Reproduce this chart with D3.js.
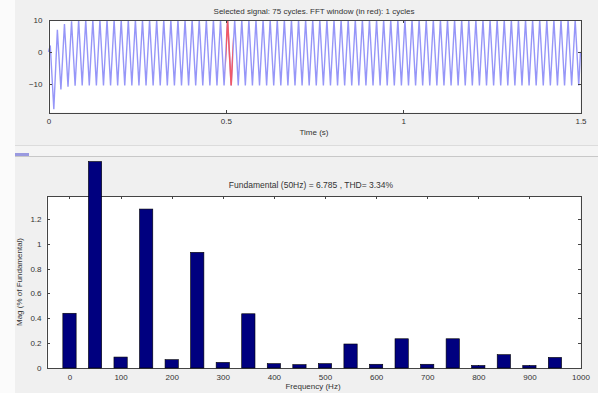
<!DOCTYPE html>
<html>
<head>
<meta charset="utf-8">
<script src="https://cdn.jsdelivr.net/npm/d3@7"></script>
<style>
  body { margin: 0; background: #f0f0f0; }
  svg { display: block; font-family: "Liberation Sans", Arial, sans-serif; }
  .axis text { font-size: 8px; fill: #333; }
  .axis path, .axis line { stroke: #444; shape-rendering: crispEdges; }
</style>
</head>
<body>
<div id="chart"></div>
<script>
// ---- data ----
// per-cycle max / min of the selected signal, 75 cycles of 50 Hz
const cyclePeaks = [
  2, 6.9, 8.7, 9.6, 10, 10, 10, 10, 10, 10, 10, 10, 10, 10, 10,
  10, 10, 10, 10, 10, 10, 10, 10, 10, 10, 10, 10, 10, 10, 10,
  10, 10, 10, 10, 10, 10, 10, 10, 10, 10, 10, 10, 10, 10, 10,
  10, 10, 10, 10, 10, 10, 10, 10, 10, 10, 10, 10, 10, 10, 10,
  10, 10, 10, 10, 10, 10, 10, 10, 10, 10, 10, 10, 10, 10, 10
];
const cycleTroughs = [
  -18, -11.8, -10.9, -10.6, -10.5, -10.5, -10.5, -10.5, -10.5, -10.5, -10.5, -10.5, -10.5, -10.5, -10.5,
  -10.5, -10.5, -10.5, -10.5, -10.5, -10.5, -10.5, -10.5, -10.5, -10.5, -10.5, -10.5, -10.5, -10.5, -10.5,
  -10.5, -10.5, -10.5, -10.5, -10.5, -10.5, -10.5, -10.5, -10.5, -10.5, -10.5, -10.5, -10.5, -10.5, -10.5,
  -10.5, -10.5, -10.5, -10.5, -10.5, -10.5, -10.5, -10.5, -10.5, -10.5, -10.5, -10.5, -10.5, -10.5, -10.5,
  -10.5, -10.5, -10.5, -10.5, -10.5, -10.5, -10.5, -10.5, -10.5, -10.5, -10.5, -10.5, -10.5, -10.5, -10.5
];
const fundamentalHz = 50;
const fftWindow = [0.5, 0.52];
const timeTicks = [0, 0.5, 1, 1.5];
const signalTicks = [-10, 0, 10];

const harmonicFreqs = [0, 50, 100, 150, 200, 250, 300, 350, 400, 450,
                       500, 550, 600, 650, 700, 750, 800, 850, 900, 950];
const harmonicMags = [0.44, 1.66, 0.088, 1.278, 0.067, 0.93, 0.045, 0.436, 0.035, 0.027,
                      0.035, 0.193, 0.03, 0.235, 0.03, 0.235, 0.02, 0.107, 0.02, 0.085];
const freqTicks = [0, 100, 200, 300, 400, 500, 600, 700, 800, 900, 1000];
const magTicks = [0, 0.2, 0.4, 0.6, 0.8, 1, 1.2];

const W = 598, H = 393;
const svg = d3.select("#chart").append("svg").attr("width", W).attr("height", H);

svg.append("rect").attr("width", W).attr("height", H).attr("fill", "#f0f0f0");
svg.append("rect").attr("width", 15).attr("height", H).attr("fill", "#fbfbfb");

// separator between the two panels
svg.append("line").attr("x1", 15).attr("x2", W).attr("y1", 145.5).attr("y2", 145.5)
  .attr("stroke", "#dcdcdc");
svg.append("rect").attr("x", 15).attr("y", 146).attr("width", W - 15).attr("height", 10)
  .attr("fill", "#f4f4f4");
svg.append("line").attr("x1", 15).attr("x2", W).attr("y1", 156.5).attr("y2", 156.5)
  .attr("stroke", "#c8c8c8");
svg.append("rect").attr("x", 15).attr("y", 153).attr("width", 14).attr("height", 3)
  .attr("fill", "#9a9ae0");

// ---------- top panel: time signal ----------
const xt = d3.scaleLinear().domain([0, 1.5]).range([48.5, 580.5]);
const yt = d3.scaleLinear().domain([-19, 10]).range([112.5, 20]);

svg.append("rect")
  .attr("x", xt(0)).attr("y", yt(10))
  .attr("width", xt(1.5) - xt(0)).attr("height", yt(-19) - yt(10))
  .attr("fill", "#fff");

const period = 1 / fundamentalHz;
const sigPts = [[0, 0]];
cyclePeaks.forEach((p, k) => {
  sigPts.push([k * period + period / 4, p]);
  sigPts.push([k * period + 3 * period / 4, cycleTroughs[k]]);
});
sigPts.push([1.5, 0]);

const sigLine = d3.line().x(d => xt(d[0])).y(d => yt(d[1]));

svg.append("path").datum(sigPts)
  .attr("d", sigLine)
  .attr("fill", "none")
  .attr("stroke", "#6a6af5")
  .attr("stroke-opacity", 0.7)
  .attr("stroke-width", 1.4);

svg.append("clipPath").attr("id", "fftclip")
  .append("rect")
  .attr("x", xt(fftWindow[0])).attr("y", 0)
  .attr("width", xt(fftWindow[1]) - xt(fftWindow[0])).attr("height", H);

svg.append("path").datum(sigPts)
  .attr("d", sigLine)
  .attr("clip-path", "url(#fftclip)")
  .attr("fill", "none")
  .attr("stroke", "#ff5050")
  .attr("stroke-opacity", 0.85)
  .attr("stroke-width", 1.6);

const topAx = svg.append("g");
topAx.append("g").attr("class", "axis")
  .attr("transform", `translate(0,${yt(-19)})`)
  .call(d3.axisBottom(xt).tickValues(timeTicks).tickSize(-3).tickPadding(6)
    .tickFormat(d3.format("")));
topAx.append("g").attr("class", "axis")
  .attr("transform", `translate(0,${yt(10)})`)
  .call(d3.axisTop(xt).tickValues(timeTicks).tickSize(-3).tickFormat(""));
topAx.append("g").attr("class", "axis")
  .attr("transform", `translate(${xt(0)},0)`)
  .call(d3.axisLeft(yt).tickValues(signalTicks).tickSize(-3).tickPadding(6));
topAx.append("g").attr("class", "axis")
  .attr("transform", `translate(${xt(1.5)},0)`)
  .call(d3.axisRight(yt).tickValues(signalTicks).tickSize(-3).tickFormat(""));

svg.append("text")
  .attr("x", 314).attr("y", 14)
  .attr("text-anchor", "middle").attr("font-size", "8px").attr("fill", "#333")
  .text("Selected signal: 75 cycles. FFT window (in red): 1 cycles");
svg.append("text")
  .attr("x", 314).attr("y", 135)
  .attr("text-anchor", "middle").attr("font-size", "8px").attr("fill", "#333")
  .text("Time (s)");

// ---------- bottom panel: harmonic spectrum ----------
const xf = d3.scaleLinear().domain([-45, 1000]).range([46.5, 580.5]);
const yf = d3.scaleLinear().domain([0, 1.383]).range([368, 196]);

svg.append("rect")
  .attr("x", xf(-45)).attr("y", yf(1.383))
  .attr("width", xf(1000) - xf(-45)).attr("height", yf(0) - yf(1.383))
  .attr("fill", "#fff");

const botAx = svg.append("g");
botAx.append("g").attr("class", "axis")
  .attr("transform", `translate(0,${yf(0)})`)
  .call(d3.axisBottom(xf).tickValues(freqTicks).tickSize(-3).tickPadding(6)
    .tickFormat(d3.format("")));
botAx.append("g").attr("class", "axis")
  .attr("transform", `translate(0,${yf(1.383)})`)
  .call(d3.axisTop(xf).tickValues(freqTicks).tickSize(-3).tickFormat(""));
botAx.append("g").attr("class", "axis")
  .attr("transform", `translate(${xf(-45)},0)`)
  .call(d3.axisLeft(yf).tickValues(magTicks).tickSize(-3).tickPadding(5)
    .tickFormat(d3.format("")));
botAx.append("g").attr("class", "axis")
  .attr("transform", `translate(${xf(1000)},0)`)
  .call(d3.axisRight(yf).tickValues(magTicks).tickSize(-3).tickFormat(""));

// bars go on top of the frame, the 50 Hz bar runs past the top edge
const barW = xf(13) - xf(-13);
svg.append("g").selectAll("rect")
  .data(harmonicFreqs)
  .enter()
  .append("rect")
  .attr("x", (d) => xf(d) - barW / 2)
  .attr("y", (d, i) => yf(harmonicMags[i]))
  .attr("width", barW)
  .attr("height", (d, i) => yf(0) - yf(harmonicMags[i]))
  .attr("fill", "#00007f")
  .attr("stroke", "#000")
  .attr("stroke-width", 0.6);

svg.append("text")
  .attr("x", 311).attr("y", 188)
  .attr("text-anchor", "middle").attr("font-size", "8.5px").attr("fill", "#333")
  .text("Fundamental (50Hz) = 6.785 , THD= 3.34%");
svg.append("text")
  .attr("x", 313).attr("y", 389)
  .attr("text-anchor", "middle").attr("font-size", "8px").attr("fill", "#333")
  .text("Frequency (Hz)");
svg.append("text")
  .attr("transform", `translate(22,${(yf(0) + yf(1.383)) / 2}) rotate(-90)`)
  .attr("text-anchor", "middle").attr("font-size", "8px").attr("fill", "#333")
  .text("Mag (% of Fundamental)");
</script>
</body>
</html>
